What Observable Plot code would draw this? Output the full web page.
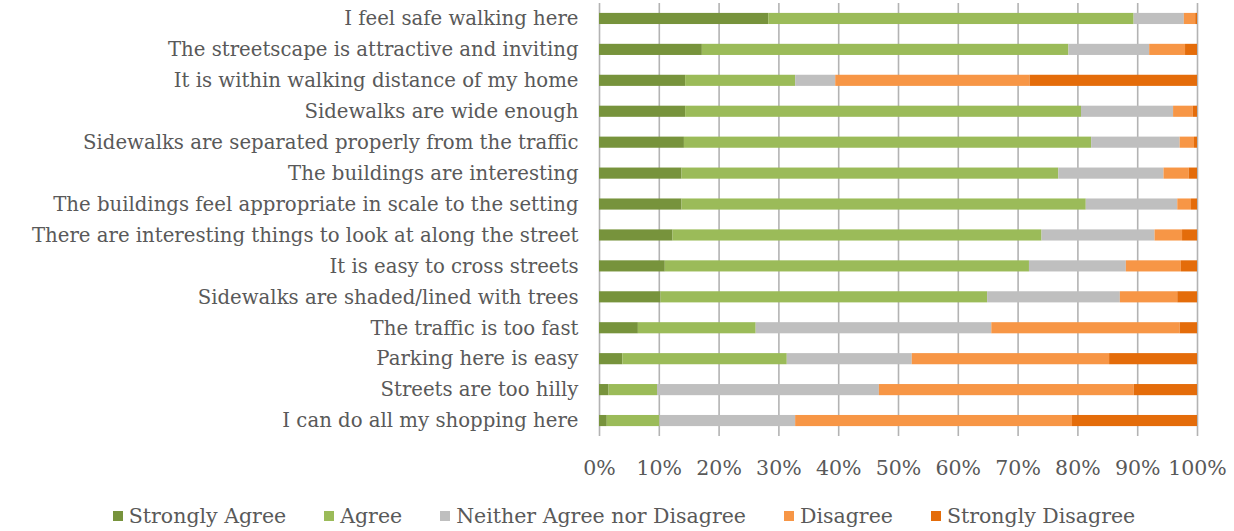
<!DOCTYPE html>
<html><head><meta charset="utf-8">
<script src="https://cdn.jsdelivr.net/npm/d3@7"></script>
<script src="https://cdn.jsdelivr.net/npm/@observablehq/plot@0.6"></script>
<style>
body{margin:0;background:#fff;font-family:"DejaVu Serif",serif;}
#chart svg{display:block;}
#legend{display:flex;justify-content:center;gap:38px;font-size:20.5px;color:#595959;margin-top:14px;line-height:24px;padding-left:14px;}
#legend span.item{display:flex;align-items:center;}
#legend span.sw{display:inline-block;width:10px;height:10px;margin-right:6px;}
</style></head><body><div id="chart"></div><div id="legend"></div>
<script>
const statements = [
  "I feel safe walking here",
  "The streetscape is attractive and inviting",
  "It is within walking distance of my home",
  "Sidewalks are wide enough",
  "Sidewalks are separated properly from the traffic",
  "The buildings are interesting",
  "The buildings feel appropriate in scale to the setting",
  "There are interesting things to look at along the street",
  "It is easy to cross streets",
  "Sidewalks are shaded/lined with trees",
  "The traffic is too fast",
  "Parking here is easy",
  "Streets are too hilly",
  "I can do all my shopping here"
];
const series = ["Strongly Agree","Agree","Neither Agree nor Disagree","Disagree","Strongly Disagree"];
const colors = ["#77933c","#9bbb59","#bfbfbf","#f79646","#e46c0a"];
const stronglyAgree = [28.3,17.2,14.4,14.4,14.2,13.8,13.8,12.3,11.0,10.3,6.5,3.9,1.6,1.3];
const agree         = [61.1,61.3,18.4,66.2,68.1,63.0,67.6,61.7,60.9,54.6,19.7,27.5,8.1,8.8];
const neither       = [8.4,13.5,6.7,15.4,14.8,17.6,15.3,18.9,16.2,22.2,39.4,20.9,37.1,22.7];
const disagree      = [1.9,6.0,32.5,3.3,2.4,4.2,2.3,4.6,9.2,9.6,31.5,33.0,42.6,46.3];
const stronglyDisagree = [0.3,2.0,28.0,0.7,0.5,1.4,1.0,2.5,2.7,3.3,2.9,14.7,10.6,20.9];
const xTicks = [0,0.1,0.2,0.3,0.4,0.5,0.6,0.7,0.8,0.9,1];

const valueLists = [stronglyAgree, agree, neither, disagree, stronglyDisagree];
const data = [];
statements.forEach((s, i) => {
  series.forEach((k, j) => data.push({statement: s, series: k, value: valueLists[j][i]}));
});

const chart = Plot.plot({
  width: 1234,
  height: 490,
  marginLeft: 599,
  marginRight: 37,
  marginTop: 3,
  marginBottom: 54,
  style: {fontFamily: '"DejaVu Serif", serif', fontSize: "20px", color: "#595959", background: "#fff"},
  x: {domain: [0, 1]},
  y: {domain: statements, paddingInner: 0.64, paddingOuter: 0.32, round: false},
  color: {domain: series, range: colors},
  marks: [
    Plot.gridX(xTicks, {stroke: "#b3b3b3", strokeOpacity: 1, strokeWidth: 1.6}),
    Plot.barX(data, Plot.stackX({
      x: "value", y: "statement", fill: "series", offset: "normalize", order: series
    })),
    Plot.axisX(xTicks, {
      tickFormat: d => Math.round(d * 100) + "%",
      tickSize: 0, tickPadding: 24, fill: "#595959", fontSize: 20.5, label: null
    }),
    Plot.axisY({tickSize: 0, tickPadding: 21, fill: "#595959", fontSize: 19.7, label: null})
  ]
});
document.getElementById("chart").append(chart);

const legend = document.getElementById("legend");
series.forEach((s, i) => {
  const item = document.createElement("span");
  item.className = "item";
  const sw = document.createElement("span");
  sw.className = "sw";
  sw.style.background = colors[i];
  item.append(sw, document.createTextNode(s));
  legend.append(item);
});
</script>
</body></html>
